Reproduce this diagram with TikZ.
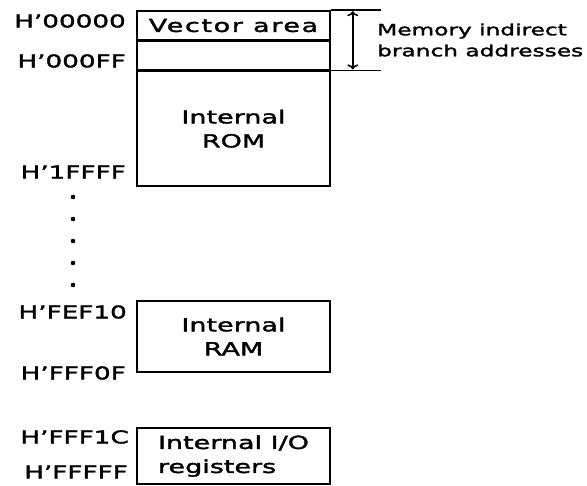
\documentclass[tikz,border=0pt]{standalone}
\usepackage{fontspec}
\setmainfont[FakeStretch=1.5,FakeBold=2]{DejaVu Sans}
\usetikzlibrary{arrows.meta,positioning}

\newcommand\addrfont{\fontsize{17.5}{19}\selectfont}
\newcommand\boxfont{\fontsize{18}{24}\selectfont}
\newcommand\notefont{\fontsize{15.5}{21}\selectfont}

\tikzset{
  membox/.style={draw,line width=1.6pt,minimum width=193pt,inner sep=0pt,align=center,font=\boxfont},
  addr/.style={anchor=east,inner sep=0pt,font=\addrfont},
}

\begin{document}
\begin{tikzpicture}[x=1pt,y=-1pt]
\useasboundingbox (0,0) rectangle (587,486);

% ROM block
\node[membox,minimum height=29pt] (vec) at (233.5,25.5) {\addfontfeature{LetterSpace=9}Vector area};
\node[membox,minimum height=28pt,below=0pt of vec] (ind) {};
\node[membox,minimum height=115pt,below=0pt of ind] (rom) {Internal\\ROM};

% RAM and I/O
\node[membox,minimum height=71pt] (ram) at (233.5,336.5) {Internal\\RAM};
\node[membox,minimum height=56pt,align=left] (io) at (233.5,456) {Internal I/O\\registers};

% addresses
\node[addr] (a1) at (126,21)  {H'00000};
\node[addr] (a2) at (126,61)  {H'000FF};
\node[addr] (a3) at (126,172) {H'1FFFF};
\node[addr] (a4) at (127,312) {H'FEF10};
\node[addr] (a5) at (126,373) {H'FFF0F};
\node[addr] (a6) at (129,437) {H'FFF1C};
\node[addr] (a7) at (128,472) {H'FFFFF};

\foreach \y in {197,219,...,285}
  \fill (73,\y) circle (2.3);

% indirect branch area
\coordinate (ntop) at ([xshift=50pt]vec.north east);
\coordinate (nbot) at ([xshift=50pt]ind.south east);
\coordinate (atop) at ([xshift=22pt,yshift=-1pt]vec.north east);
\coordinate (abot) at ([xshift=22pt,yshift=1pt]ind.south east);
\draw[line width=1.6pt] (vec.north east) -- (ntop) (ind.south east) -- (nbot);
\draw[line width=1.6pt,{To[length=5pt,width=11pt]}-{To[length=5pt,width=11pt]}] (atop) -- (abot);
\node[anchor=west,align=left,inner sep=0pt,font=\notefont] (note) at (377,40)
  {Memory indirect\\branch addresses};
\end{tikzpicture}
\end{document}
